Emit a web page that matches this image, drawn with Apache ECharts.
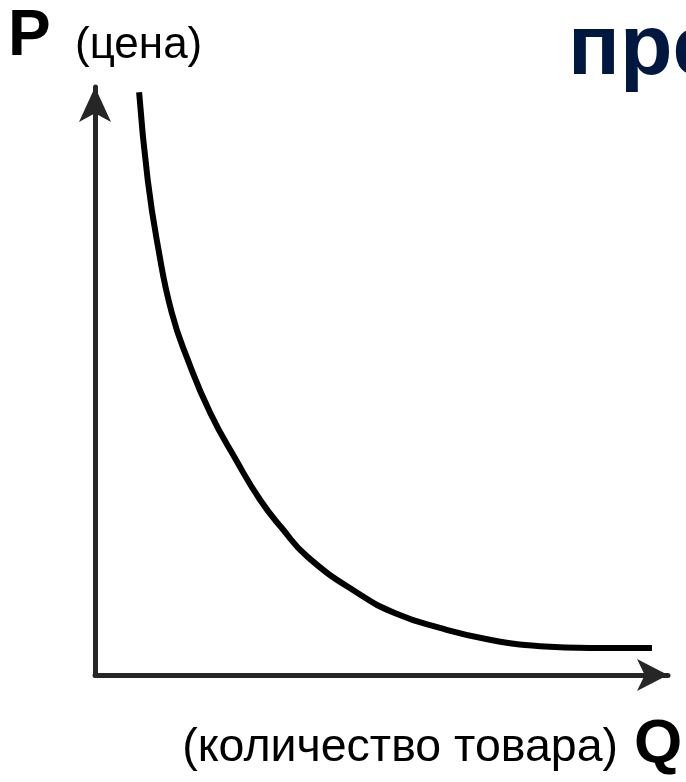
<!DOCTYPE html>
<html>
<head>
<meta charset="utf-8">
<script src="https://cdn.jsdelivr.net/npm/echarts@6/dist/echarts.min.js"></script>
<style>
  html, body { margin: 0; padding: 0; background: #fff; }
  #main { width: 686px; height: 782px; }
</style>
</head>
<body>
<div id="main"></div>
<script>
// кривая спроса: количество (Q) и цена (P), условные единицы 0..10
var qValues = [0.77, 0.92, 1.10, 1.34, 1.62, 2.01, 2.46, 2.88, 3.26, 3.72, 4.59, 5.24, 6.02, 6.89, 7.77, 8.64, 9.72];
var pValues = [9.91, 8.42, 7.28, 6.16, 5.36, 4.46, 3.66, 2.98, 2.50, 2.00, 1.39, 1.05, 0.80, 0.60, 0.49, 0.46, 0.46];

var axisColor = '#262626';
var font = '"Liberation Sans", Arial, sans-serif';

var curve = qValues.map(function (q, i) {
    return [q, pValues[i]];
});

var chartDom = document.getElementById('main');
var myChart = echarts.init(chartDom);
var option = {
    backgroundColor: '#fff',
    animation: false,
    grid: { left: 95, top: 87, right: 18, bottom: 107 },
    xAxis: {
        type: 'value',
        min: 0,
        max: 10,
        axisLine: {
            show: true,
            symbol: ['none', 'arrow'],
            symbolSize: [24, 31],
            lineStyle: { color: axisColor, width: 5 }
        },
        axisTick: { show: false },
        axisLabel: { show: false },
        splitLine: { show: false }
    },
    yAxis: {
        type: 'value',
        min: 0,
        max: 10,
        axisLine: {
            show: true,
            symbol: ['none', 'arrow'],
            symbolSize: [24, 35],
            lineStyle: { color: axisColor, width: 5 }
        },
        axisTick: { show: false },
        axisLabel: { show: false },
        splitLine: { show: false }
    },
    series: [
        {
            type: 'line',
            data: curve,
            smooth: 0.5,
            symbol: 'none',
            clip: false,
            lineStyle: { color: '#000', width: 6 }
        }
    ],
    graphic: [
        {
            type: 'text', left: 8, top: 5,
            style: { text: 'P', font: 'bold 64px ' + font, fill: '#000' }
        },
        {
            type: 'text', left: 75, top: 24,
            style: { text: '(цена)', font: '44px ' + font, fill: '#000' }
        },
        {
            type: 'text', left: 568, top: 7,
            style: { text: 'пре', font: 'bold 86px ' + font, fill: '#00183f' }
        },
        {
            type: 'text', right: 68, top: 725,
            style: { text: '(количество товара)', font: '46.5px ' + font, fill: '#000' }
        },
        {
            type: 'text', left: 634, top: 714,
            style: { text: 'Q', font: 'bold 62px ' + font, fill: '#000' }
        }
    ]
};
option && myChart.setOption(option);
</script>
</body>
</html>
